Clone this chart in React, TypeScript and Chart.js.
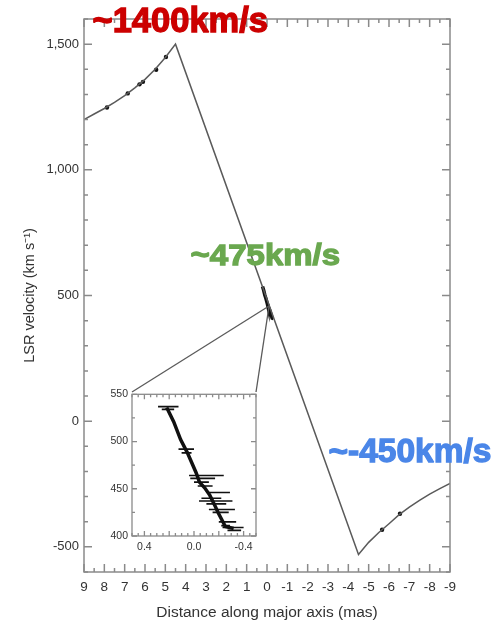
import React, { useEffect, useRef } from "react";
import { Chart, registerables } from "chart.js";

Chart.register(...registerables);

// ---- main rotation-curve data (distance in mas, LSR velocity in km/s) ----
const mainDistance = [9, 8.5, 8, 7.5, 7, 6.5, 6, 5.5, 5, 4.5, -4.5, -5, -5.5, -6, -6.5, -7, -7.5, -8, -8.5, -9];
const mainVelocity = [1200, 1222, 1244, 1268, 1295, 1326, 1360, 1400, 1447, 1500, -530, -482, -443, -408, -372, -342, -315, -290, -268, -248];

// high-velocity maser spots
const maserDistance = [7.87, 6.85, 6.27, 6.1, 5.45, 4.97, -5.66, -6.54];
const maserVelocity = [1248, 1304, 1340, 1350, 1398, 1449, -432, -368];

// systemic masers (trend of the inset)
const systemicOffset = [0.22, 0.164, 0.108, 0.053, -0.017, -0.044, -0.086, -0.128, -0.169, -0.197, -0.253, -0.32];
const systemicVelocity = [536, 521, 502, 488, 467, 457, 451, 443, 432, 424, 410, 408];

// spectral feature extents in the inset
const featureVelocity = [537, 534, 492, 488, 464, 461, 457, 453, 446, 440, 437, 434, 428, 425, 415, 411, 409, 406];
const featureFrom = [0.29, 0.26, 0.125, 0.1, 0.04, 0.03, 0.0, -0.03, -0.11, -0.06, -0.04, -0.1, -0.12, -0.15, -0.2, -0.22, -0.23, -0.27];
const featureTo = [0.125, 0.16, 0.0, 0.02, -0.24, -0.17, -0.12, -0.15, -0.29, -0.22, -0.31, -0.26, -0.33, -0.28, -0.34, -0.29, -0.4, -0.38];

// zoom connector: inset top corners -> systemic region
const connectorDistance = [6.64, 0.54];
const connectorVelocity = [116, 116];
const zoomCenterDistance = [-0.1];
const zoomCenterVelocity = [458];

// ticks
const xTickValues = [9, 8, 7, 6, 5, 4, 3, 2, 1, 0, -1, -2, -3, -4, -5, -6, -7, -8, -9];
const xTickLabels = ["9", "8", "7", "6", "5", "4", "3", "2", "1", "0", "-1", "-2", "-3", "-4", "-5", "-6", "-7", "-8", "-9"];
const yTickValues = [-500, 0, 500, 1000, 1500];
const yTickLabels = ["-500", "0", "500", "1,000", "1,500"];
const insetXTickValues = [0.4, 0, -0.4];
const insetXTickLabels = ["0.4", "0.0", "-0.4"];
const insetYTickValues = [400, 450, 500, 550];
const insetYTickLabels = ["400", "450", "500", "550"];

const FONT = 'Arial, "Liberation Sans", Helvetica, sans-serif';
const LINE = "#5a5a5a";
const FRAME = "#8a8a8a";
const LABEL = "#333333";

type TickCfg = {
  xMinor: number; xMajor: number; yMinor: number; yMajor: number;
  majorLen: number; minorLen: number; color: string; width: number; fill?: string;
};

function frameTicks(id: string, cfg: TickCfg) {
  return {
    id,
    beforeDatasetsDraw(chart: any) {
      if (!cfg.fill) return;
      const { ctx, chartArea: a } = chart;
      ctx.save();
      ctx.fillStyle = cfg.fill;
      ctx.fillRect(a.left, a.top, a.right - a.left, a.bottom - a.top);
      ctx.restore();
    },
    afterDatasetsDraw(chart: any) {
      const { ctx, chartArea: a, scales } = chart;
      const xs = scales.x, ys = scales.y;
      ctx.save();
      ctx.strokeStyle = cfg.color;
      ctx.lineWidth = cfg.width;
      ctx.strokeRect(a.left, a.top, a.right - a.left, a.bottom - a.top);
      ctx.beginPath();
      const isMajor = (v: number, m: number) => Math.abs(v / m - Math.round(v / m)) < 1e-6;
      for (let i = Math.ceil(xs.min / cfg.xMinor - 1e-9); i * cfg.xMinor <= xs.max + 1e-9; i++) {
        const v = i * cfg.xMinor;
        const len = isMajor(v, cfg.xMajor) ? cfg.majorLen : cfg.minorLen;
        const px = xs.getPixelForValue(v);
        ctx.moveTo(px, a.bottom); ctx.lineTo(px, a.bottom - len);
        ctx.moveTo(px, a.top); ctx.lineTo(px, a.top + len);
      }
      for (let i = Math.ceil(ys.min / cfg.yMinor - 1e-9); i * cfg.yMinor <= ys.max + 1e-9; i++) {
        const v = i * cfg.yMinor;
        const len = isMajor(v, cfg.yMajor) ? cfg.majorLen : cfg.minorLen;
        const py = ys.getPixelForValue(v);
        ctx.moveTo(a.left, py); ctx.lineTo(a.left + len, py);
        ctx.moveTo(a.right, py); ctx.lineTo(a.right - len, py);
      }
      ctx.stroke();
      ctx.restore();
    },
  };
}

function boldText(ctx: CanvasRenderingContext2D, text: string, x: number, y: number, color: string, size: number, sx = 1) {
  ctx.save();
  ctx.translate(x, y);
  ctx.scale(sx, 1);
  ctx.font = `bold ${size}px ${FONT}`;
  ctx.fillStyle = color;
  ctx.strokeStyle = color;
  ctx.lineWidth = 1.3;
  ctx.lineJoin = "miter";
  ctx.miterLimit = 2;
  ctx.textBaseline = "alphabetic";
  ctx.textAlign = "left";
  ctx.strokeText(text, 0.5, 0);
  ctx.fillText(text, 0.5, 0);
  ctx.restore();
}

const annotationPlugin = {
  id: "annotations",
  afterDraw(chart: any) {
    const { ctx } = chart;
    boldText(ctx, "~1400km/s", 92, 32, "#cc0000", 34.5);
    boldText(ctx, "~475km/s", 190, 265, "#6aa84f", 30, 1.1);
    boldText(ctx, "~-450km/s", 328, 462, "#4a86e8", 33.5);
  },
};

function pts(xs: number[], ys: number[]) {
  return xs.map((x, i) => ({ x, y: ys[i] }));
}

export default function App() {
  const mainRef = useRef<HTMLCanvasElement>(null);
  const insetRef = useRef<HTMLCanvasElement>(null);

  useEffect(() => {
    if (!mainRef.current || !insetRef.current) return;

    const connectors = connectorDistance.map((d, i) => ({
      type: "scatter" as const,
      data: [
        { x: d, y: connectorVelocity[i] },
        { x: zoomCenterDistance[0], y: zoomCenterVelocity[0] },
      ],
      showLine: true,
      borderColor: LINE,
      borderWidth: 1.3,
      pointRadius: 0,
    }));

    const main = new Chart(mainRef.current, {
      type: "scatter",
      data: {
        datasets: [
          {
            data: pts(mainDistance, mainVelocity),
            showLine: true,
            borderColor: LINE,
            borderWidth: 1.5,
            pointRadius: 0,
          },
          ...connectors,
          {
            data: pts(systemicOffset, systemicVelocity),
            showLine: true,
            borderColor: "#111",
            borderWidth: 3.5,
            pointRadius: 0,
          },
          {
            data: pts(maserDistance, maserVelocity),
            showLine: false,
            backgroundColor: "#111",
            borderColor: "#111",
            pointRadius: 2.2,
            borderWidth: 0,
          },
        ] as any,
      },
      options: {
        responsive: false,
        animation: false,
        devicePixelRatio: 1,
        layout: { padding: { top: 19, right: 45, left: 0, bottom: 0 } },
        plugins: { legend: { display: false }, tooltip: { enabled: false } },
        events: [],
        scales: {
          x: {
            type: "linear",
            min: -9,
            max: 9,
            reverse: true,
            grid: { display: false, drawTicks: false },
            border: { display: false },
            afterBuildTicks: (s: any) => { s.ticks = xTickValues.map((value) => ({ value })); },
            afterFit: (s: any) => { s.height = 50; },
            ticks: {
              autoSkip: false,
              maxRotation: 0,
              minRotation: 0,
              padding: 7,
              color: LABEL,
              font: { family: FONT, size: 13.5 },
              callback: (v: any) => xTickLabels[xTickValues.indexOf(Number(v))] ?? "",
            },
            title: {
              display: true,
              text: "Distance along major axis (mas)",
              color: LABEL,
              font: { family: FONT, size: 15.5 },
              padding: { top: 0, bottom: 0 },
            },
          },
          y: {
            type: "linear",
            min: -600,
            max: 1600,
            grid: { display: false, drawTicks: false },
            border: { display: false },
            afterBuildTicks: (s: any) => { s.ticks = yTickValues.map((value) => ({ value })); },
            afterFit: (s: any) => { s.width = 84; },
            ticks: {
              padding: 5,
              color: LABEL,
              font: { family: FONT, size: 13 },
              callback: (v: any) => yTickLabels[yTickValues.indexOf(Number(v))] ?? "",
            },
            title: {
              display: true,
              text: "LSR velocity (km s\u207B\u00B9)",
              color: LABEL,
              font: { family: FONT, size: 14.5 },
              padding: { top: 21, bottom: 0 },
            },
          },
        },
      },
      plugins: [
        frameTicks("mainFrame", { xMinor: 0.5, xMajor: 1, yMinor: 100, yMajor: 500, majorLen: 8, minorLen: 4, color: FRAME, width: 1.5 }),
        annotationPlugin,
      ],
    } as any);

    const featureData: any[] = [];
    featureVelocity.forEach((v, i) => {
      featureData.push({ x: featureFrom[i], y: v }, { x: featureTo[i], y: v }, { x: featureTo[i], y: null });
    });

    const inset = new Chart(insetRef.current, {
      type: "scatter",
      data: {
        datasets: [
          {
            data: featureData,
            showLine: true,
            spanGaps: false,
            borderColor: "#111",
            borderWidth: 1.6,
            pointRadius: 0,
          },
          {
            data: pts(systemicOffset, systemicVelocity),
            showLine: true,
            borderColor: "#111",
            borderWidth: 3.5,
            pointRadius: 0,
          },
        ] as any,
      },
      options: {
        responsive: false,
        animation: false,
        devicePixelRatio: 1,
        layout: { padding: { top: 8, right: 9, left: 0, bottom: 0 } },
        plugins: { legend: { display: false }, tooltip: { enabled: false } },
        events: [],
        scales: {
          x: {
            type: "linear",
            min: -0.5,
            max: 0.5,
            reverse: true,
            grid: { display: false, drawTicks: false },
            border: { display: false },
            afterBuildTicks: (s: any) => { s.ticks = insetXTickValues.map((value) => ({ value })); },
            afterFit: (s: any) => { s.height = 20; },
            ticks: {
              autoSkip: false,
              maxRotation: 0,
              minRotation: 0,
              padding: 5,
              color: LABEL,
              font: { family: FONT, size: 10.5 },
              callback: (v: any) => {
                const i = insetXTickValues.findIndex((t) => Math.abs(t - Number(v)) < 1e-9);
                return i >= 0 ? insetXTickLabels[i] : "";
              },
            },
          },
          y: {
            type: "linear",
            min: 400,
            max: 550,
            grid: { display: false, drawTicks: false },
            border: { display: false },
            afterBuildTicks: (s: any) => { s.ticks = insetYTickValues.map((value) => ({ value })); },
            afterFit: (s: any) => { s.width = 32; },
            ticks: {
              padding: 4,
              color: LABEL,
              font: { family: FONT, size: 10.5 },
              callback: (v: any) => insetYTickLabels[insetYTickValues.indexOf(Number(v))] ?? "",
            },
          },
        },
      },
      plugins: [
        frameTicks("insetFrame", { xMinor: 0.05, xMajor: 0.2, yMinor: 25, yMajor: 50, majorLen: 5, minorLen: 3, color: FRAME, width: 1.3, fill: "#ffffff" }),
      ],
    } as any);

    return () => {
      main.destroy();
      inset.destroy();
    };
  }, []);

  return (
    <div style={{ position: "absolute", left: 0, top: 0, width: 495, height: 622, background: "#fff" }}>
      <canvas ref={mainRef} width={495} height={622} style={{ position: "absolute", left: 0, top: 0, width: 495, height: 622 }} />
      <canvas ref={insetRef} width={165} height={172} style={{ position: "absolute", left: 100, top: 384, width: 165, height: 172 }} />
    </div>
  );
}
